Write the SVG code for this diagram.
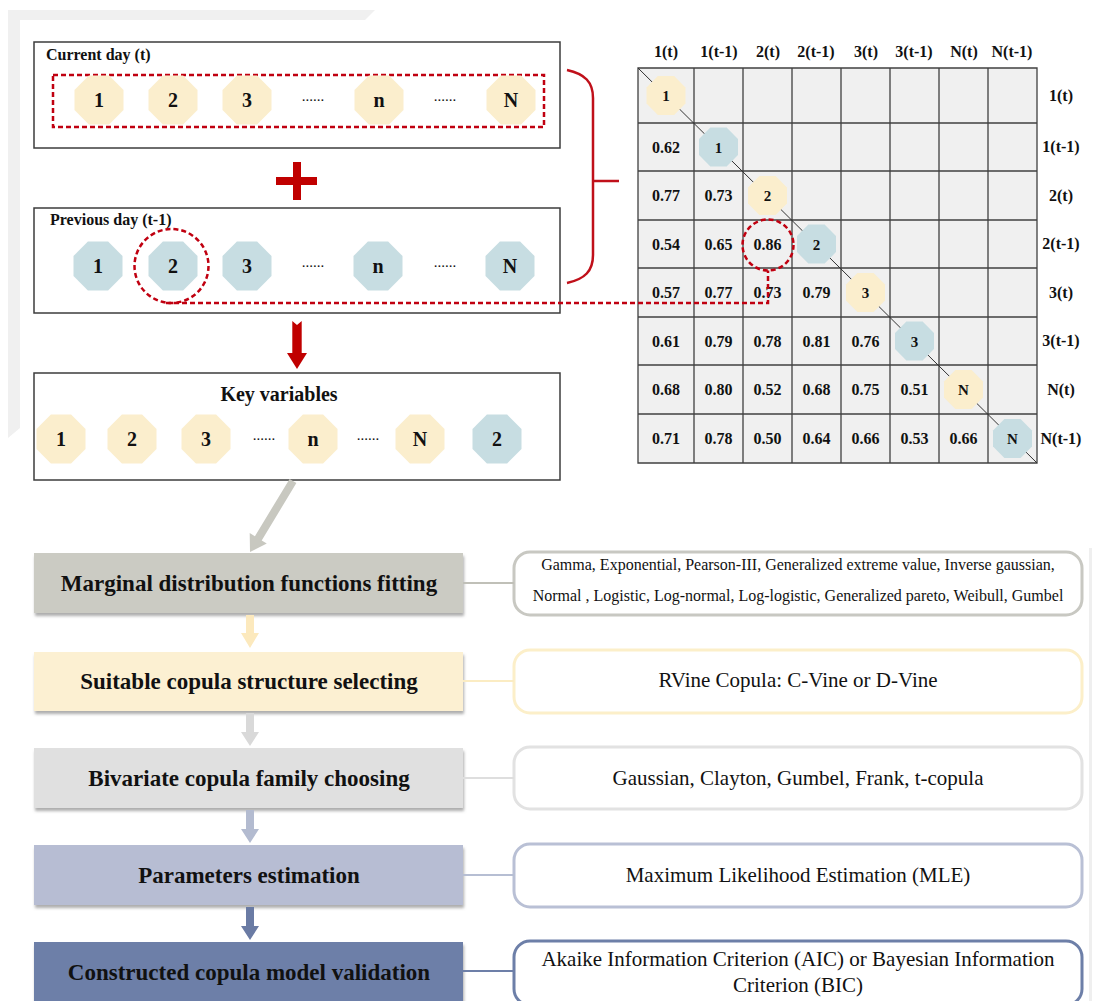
<svg xmlns="http://www.w3.org/2000/svg" xmlns:xlink="http://www.w3.org/1999/xlink" width="1107" height="1001" viewBox="0 0 1107 1001">
  <style>
    .serif { font-family: "Liberation Serif", "Times New Roman", serif; fill: #111; }
    .b { font-weight: bold; }
    .frame { fill: #fff; stroke: #3c3c3c; stroke-width: 1.5; }
    .octY { fill: #fbeecd; }
    .octB { fill: #c7dde2; }
    .num { font-size: 20px; font-weight: bold; text-anchor: middle; }
    .mnum { font-size: 15px; font-weight: bold; text-anchor: middle; }
    .dots { font-size: 15px; text-anchor: middle; }
    .title { font-size: 16px; font-weight: bold; }
    .hdr { font-size: 16px; font-weight: bold; text-anchor: middle; }
    .val { font-size: 16px; font-weight: bold; text-anchor: middle; }
    .red-dash { fill: none; stroke: #c00010; stroke-width: 2.5; stroke-dasharray: 5 3; }
    .step { font-size: 23px; font-weight: bold; text-anchor: middle; }
    .detail { fill: #fff; stroke-width: 3; }
    .dtext { font-size: 21px; text-anchor: middle; }
    .dsmall { font-size: 16px; text-anchor: middle; }
    .grid { stroke: #404040; stroke-width: 1.3; fill: none; }
  </style>
  <defs>
    <path id="oct" d="M-10.1,-24.5 L10.1,-24.5 L24.5,-10.1 L24.5,10.1 L10.1,24.5 L-10.1,24.5 L-24.5,10.1 L-24.5,-10.1 Z"/>
    <path id="octS" d="M-8.1,-19.5 L8.1,-19.5 L19.5,-8.1 L19.5,8.1 L8.1,19.5 L-8.1,19.5 L-19.5,8.1 L-19.5,-8.1 Z"/>
    <filter id="shadow" x="-5%" y="-20%" width="110%" height="150%">
      <feDropShadow dx="1" dy="3" stdDeviation="1.5" flood-color="#777" flood-opacity="0.6"/>
    </filter>
  </defs>

  <!-- light page corner band -->
  <path d="M8,10 H375 L365,20 H20 V428 L8,438 Z" fill="#f0f0f0"/>
  <rect x="1089" y="548" width="3" height="453" fill="#efefef"/>

  <!-- current day variables -->
  <g id="current-day">
    <rect class="frame" x="34" y="42" width="526" height="106"/>
    <text class="serif title" x="46" y="60">Current day (t)</text>
    <rect class="red-dash" x="53" y="75" width="491" height="52"/>
    <use href="#oct" class="octY" x="99" y="100"/>
    <use href="#oct" class="octY" x="173" y="100"/>
    <use href="#oct" class="octY" x="247" y="100"/>
    <use href="#oct" class="octY" x="379" y="100"/>
    <use href="#oct" class="octY" x="511" y="100"/>
    <text class="serif num" x="99" y="107">1</text>
    <text class="serif num" x="173" y="107">2</text>
    <text class="serif num" x="247" y="107">3</text>
    <text class="serif dots" x="313" y="101">......</text>
    <text class="serif num" x="379" y="107">n</text>
    <text class="serif dots" x="445" y="101">......</text>
    <text class="serif num" x="511" y="107">N</text>
  </g>

  <!-- plus sign -->
  <g id="plus" fill="#c00000">
    <rect x="276" y="177" width="41" height="8"/>
    <rect x="293" y="162" width="8" height="38"/>
  </g>

  <!-- previous day variables -->
  <g id="previous-day">
    <rect class="frame" x="34" y="208" width="526" height="105"/>
    <text class="serif title" x="50" y="225">Previous day (t-1)</text>
    <use href="#oct" class="octB" x="98" y="266"/>
    <use href="#oct" class="octB" x="173" y="266"/>
    <use href="#oct" class="octB" x="247" y="266"/>
    <use href="#oct" class="octB" x="378" y="266"/>
    <use href="#oct" class="octB" x="510" y="266"/>
    <text class="serif num" x="98" y="273">1</text>
    <text class="serif num" x="173" y="273">2</text>
    <text class="serif num" x="247" y="273">3</text>
    <text class="serif dots" x="313" y="267">......</text>
    <text class="serif num" x="378" y="273">n</text>
    <text class="serif dots" x="445" y="267">......</text>
    <text class="serif num" x="510" y="273">N</text>
    <circle class="red-dash" cx="171.5" cy="266" r="37"/>
  </g>

  <!-- key variables -->
  <g id="key-variables">
    <rect class="frame" x="34" y="373" width="526" height="107"/>
    <text class="serif b" x="279" y="401" font-size="20" text-anchor="middle">Key variables</text>
    <use href="#oct" class="octY" x="61" y="439"/>
    <use href="#oct" class="octY" x="132" y="439"/>
    <use href="#oct" class="octY" x="206" y="439"/>
    <use href="#oct" class="octY" x="313" y="439"/>
    <use href="#oct" class="octY" x="420" y="439"/>
    <use href="#oct" class="octB" x="497" y="439"/>
    <text class="serif num" x="61" y="446">1</text>
    <text class="serif num" x="132" y="446">2</text>
    <text class="serif num" x="206" y="446">3</text>
    <text class="serif dots" x="264" y="440">......</text>
    <text class="serif num" x="313" y="446">n</text>
    <text class="serif dots" x="368" y="440">......</text>
    <text class="serif num" x="420" y="446">N</text>
    <text class="serif num" x="497" y="446">2</text>
  </g>

  <!-- correlation matrix -->
  <g id="matrix">
    <rect x="638" y="68" width="399" height="395" fill="#f0f0f0"/>
    <path class="grid" d="M638,68 H1037 V463 H638 Z M694,68 V463 M743,68 V463 M792,68 V463 M841,68 V463 M890,68 V463 M939,68 V463 M988,68 V463 M638,123 H1037 M638,171 H1037 M638,220 H1037 M638,268 H1037 M638,317 H1037 M638,365 H1037 M638,414 H1037"/>
    <line x1="638" y1="68" x2="1037" y2="463" stroke="#333" stroke-width="1"/>
    <!-- column headers -->
    <g class="serif hdr">
      <text x="666" y="57">1(t)</text>
      <text x="719" y="57">1(t-1)</text>
      <text x="768" y="57">2(t)</text>
      <text x="816" y="57">2(t-1)</text>
      <text x="866" y="57">3(t)</text>
      <text x="914" y="57">3(t-1)</text>
      <text x="964" y="57">N(t)</text>
      <text x="1012" y="57">N(t-1)</text>
    </g>
    <!-- row headers -->
    <g class="serif hdr">
      <text x="1061" y="101">1(t)</text>
      <text x="1061" y="152">1(t-1)</text>
      <text x="1061" y="201">2(t)</text>
      <text x="1061" y="249">2(t-1)</text>
      <text x="1061" y="298">3(t)</text>
      <text x="1061" y="346">3(t-1)</text>
      <text x="1061" y="395">N(t)</text>
      <text x="1061" y="444">N(t-1)</text>
    </g>
    <!-- diagonal variables -->
    <use href="#octS" class="octY" x="666" y="95.5"/>
    <use href="#octS" class="octB" x="718.5" y="147"/>
    <use href="#octS" class="octY" x="767.5" y="195.5"/>
    <use href="#octS" class="octB" x="816.5" y="244"/>
    <use href="#octS" class="octY" x="865.5" y="292.5"/>
    <use href="#octS" class="octB" x="914.5" y="341"/>
    <use href="#octS" class="octY" x="963.5" y="389.5"/>
    <use href="#octS" class="octB" x="1012.5" y="438.5"/>
    <g class="serif mnum">
      <text x="666" y="101">1</text>
      <text x="718.5" y="152.5">1</text>
      <text x="767.5" y="201">2</text>
      <text x="816.5" y="249.5">2</text>
      <text x="865.5" y="298">3</text>
      <text x="914.5" y="346.5">3</text>
      <text x="963.5" y="395">N</text>
      <text x="1012.5" y="444">N</text>
    </g>
    <!-- correlation values -->
    <g class="serif val">
      <text x="666" y="152.5">0.62</text>
      <text x="666" y="201">0.77</text><text x="718.5" y="201">0.73</text>
      <text x="666" y="249.5">0.54</text><text x="718.5" y="249.5">0.65</text><text x="767.5" y="249.5">0.86</text>
      <text x="666" y="298">0.57</text><text x="718.5" y="298">0.77</text><text x="767.5" y="298">0.73</text><text x="816.5" y="298">0.79</text>
      <text x="666" y="346.5">0.61</text><text x="718.5" y="346.5">0.79</text><text x="767.5" y="346.5">0.78</text><text x="816.5" y="346.5">0.81</text><text x="865.5" y="346.5">0.76</text>
      <text x="666" y="395">0.68</text><text x="718.5" y="395">0.80</text><text x="767.5" y="395">0.52</text><text x="816.5" y="395">0.68</text><text x="865.5" y="395">0.75</text><text x="914.5" y="395">0.51</text>
      <text x="666" y="444">0.71</text><text x="718.5" y="444">0.78</text><text x="767.5" y="444">0.50</text><text x="816.5" y="444">0.64</text><text x="865.5" y="444">0.66</text><text x="914.5" y="444">0.53</text><text x="963.5" y="444">0.66</text>
    </g>
    <circle class="red-dash" cx="768" cy="245" r="25.5"/>
  </g>

  <!-- method steps -->
  <g id="step-marginal">
    <rect x="34" y="553" width="429" height="60" fill="#cbcbc3" filter="url(#shadow)"/>
    <text class="serif step" x="249" y="591">Marginal distribution functions fitting</text>
  </g>
  <g id="step-structure">
    <rect x="34" y="652" width="429" height="59" fill="#fcf0d2" filter="url(#shadow)"/>
    <text class="serif step" x="249" y="689">Suitable copula structure selecting</text>
  </g>
  <g id="step-family">
    <rect x="34" y="748" width="429" height="60" fill="#e0e0e0" filter="url(#shadow)"/>
    <text class="serif step" x="249" y="786">Bivariate copula family choosing</text>
  </g>
  <g id="step-parameters">
    <rect x="34" y="845" width="429" height="60" fill="#b7bdd3" filter="url(#shadow)"/>
    <text class="serif step" x="249" y="883">Parameters estimation</text>
  </g>
  <g id="step-validation">
    <rect x="34" y="942" width="429" height="62" fill="#6d7fa8" filter="url(#shadow)"/>
    <text class="serif step" x="249" y="980">Constructed copula model validation</text>
  </g>

  <!-- step details -->
  <g id="detail-marginal">
    <rect class="detail" x="514" y="552" width="568" height="63" rx="16" stroke="#c8c8c2"/>
    <text class="serif dsmall" x="798" y="570">Gamma, Exponential, Pearson-III, Generalized extreme value, Inverse gaussian,</text>
    <text class="serif dsmall" x="798" y="601">Normal , Logistic, Log-normal, Log-logistic, Generalized pareto, Weibull, Gumbel</text>
  </g>
  <g id="detail-structure">
    <rect class="detail" x="514" y="650" width="568" height="63" rx="16" stroke="#fcefc9"/>
    <text class="serif dtext" x="798" y="687">RVine Copula: C-Vine or D-Vine</text>
  </g>
  <g id="detail-family">
    <rect class="detail" x="514" y="747" width="568" height="62" rx="16" stroke="#e2e2e2"/>
    <text class="serif dtext" x="798" y="785">Gaussian, Clayton, Gumbel, Frank, t-copula</text>
  </g>
  <g id="detail-parameters">
    <rect class="detail" x="514" y="844" width="568" height="63" rx="16" stroke="#b9c0d5"/>
    <text class="serif dtext" x="798" y="882">Maximum Likelihood Estimation (MLE)</text>
  </g>
  <g id="detail-validation">
    <rect class="detail" x="514" y="941" width="568" height="64" rx="16" stroke="#6d7fa8"/>
    <text class="serif dtext" x="798" y="966">Akaike Information Criterion (AIC) or Bayesian Information</text>
    <text class="serif dtext" x="798" y="992">Criterion (BIC)</text>
  </g>

  <!-- connectors -->
  <g id="connectors">
    <!-- brace joining both days to the matrix -->
    <path d="M567,70 C585,74 593,82 593,98 V255 C593,271 585,279 567,283 M593,181 H619" fill="none" stroke="#c0101a" stroke-width="2.5"/>
    <!-- selected lagged variable traced to its matrix cell -->
    <path class="red-dash" d="M166,303 H768 V270.5"/>
    <!-- to key variables -->
    <path d="M292.3,321 L297,325 L301.7,321 V353 H307 L297,369 L287,353 H292.3 Z" fill="#c00000"/>
    <!-- key variables to marginal fitting -->
    <polygon points="289.6,478.9 296.4,483.1 261.7,540.4 266.8,543.5 250,552 249.7,533.1 254.9,536.2" fill="#c8c8c0"/>
    <!-- step to step -->
    <path d="M246,615 H254 V633 H259 L250,648 L241,633 H246 Z" fill="#fce9bd"/>
    <path d="M246,713 H254 V732 H259 L250,746 L241,732 H246 Z" fill="#d9d9d9"/>
    <path d="M246,810 H254 V829 H259 L250,843 L241,829 H246 Z" fill="#b3bbd0"/>
    <path d="M246,907 H254 V926 H259 L250,940 L241,926 H246 Z" fill="#6a7ba4"/>
    <!-- step to detail -->
    <g stroke-width="2">
      <line x1="463" y1="583" x2="514" y2="583" stroke="#c0c0b8"/>
      <line x1="463" y1="681" x2="514" y2="681" stroke="#fbecc3"/>
      <line x1="463" y1="778" x2="514" y2="778" stroke="#dedede"/>
      <line x1="463" y1="875" x2="514" y2="875" stroke="#b6bed3"/>
      <line x1="463" y1="971" x2="514" y2="971" stroke="#6d7fa8"/>
    </g>
  </g>
</svg>
